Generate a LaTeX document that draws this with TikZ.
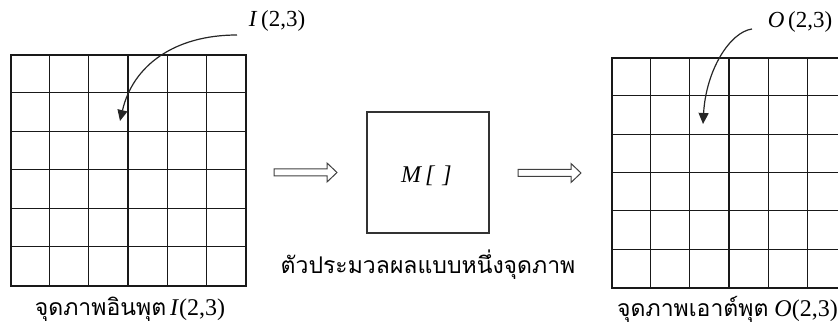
\documentclass[tikz,border=0pt]{standalone}
\usepackage{fontspec}
\setmainfont{Liberation Serif}
\newfontfamily\thaifont[Script=Thai]{Loma}
\usetikzlibrary{arrows.meta,calc}
\tikzset{
  gridline/.style={line width=1.05pt, draw=black!90},
  gridbox/.style={draw=black!90, line width=1.05pt, inner sep=0pt, minimum width=235pt},
  procbox/.style={draw=black!80, line width=1.05pt, inner sep=0pt, minimum width=122pt, minimum height=121pt},
  toplab/.style={inner sep=0pt, font=\fontsize{23}{25}\selectfont},
  captext/.style={inner sep=0pt, font=\fontsize{24}{26}\selectfont},
  curvearrow/.style={line width=1.2pt, draw=black!85, -{Triangle[length=11pt,width=10pt]}},
  hollow/.style={line width=1pt, draw=black!75, line join=miter},
}
\newcommand{\thaicap}[1]{{\thaifont\fontsize{23}{26}\selectfont #1}}
\begin{document}
\begin{tikzpicture}[x=1pt,y=-1pt]
\useasboundingbox (0,0) rectangle (838,331);
\begin{scope}
\clip (0,0) rectangle (838,331);
% input grid
\node[gridbox, minimum height=231pt] (gin) at (128.5,170.5) {};
\foreach \k in {1,...,5} {
  \draw[gridline] ($(gin.north west)+(\k*235/6,0)$) -- ($(gin.south west)+(\k*235/6,0)$);
  \draw[gridline] ($(gin.north west)+(0,\k*231/6)$) -- ($(gin.north east)+(0,\k*231/6)$);
}
% output grid
\node[gridbox, minimum height=230pt] (gout) at (729.5,173) {};
\foreach \k in {1,...,5} {
  \draw[gridline] ($(gout.north west)+(\k*235/6,0)$) -- ($(gout.south west)+(\k*235/6,0)$);
  \draw[gridline] ($(gout.north west)+(0,\k*230/6)$) -- ($(gout.north east)+(0,\k*230/6)$);
}
\end{scope}
% processor
\node[procbox] (proc) at (428,172.5) {};
\node[inner sep=0pt, font=\fontsize{24}{26}\selectfont] (mlab) at (426.5,176) {\textit{M\,[\hspace{8pt}]}};
% top labels and curved arrows
\node[toplab] (lin) at (277,21) {\textit{I}\,(2,3)};
\node[toplab] (lout) at (800,22) {\textit{O}\,(2,3)};
\coordinate (sin) at (237,35);
\coordinate (pin) at (120,121);
\coordinate (sout) at (752,29);
\coordinate (pout) at (703,124);
\draw[curvearrow] (sin) .. controls (175,35) and (133,65) .. (pin);
\draw[curvearrow] (sout) .. controls (730,32) and (706,70) .. (pout);
% hollow arrows
\coordinate (h1) at (274,172.5);
\coordinate (h2) at (518,173);
\foreach \h in {h1,h2} {
  \draw[hollow] (\h) ++(0,-3.5) -- ++(53,0) -- ++(0,-6) -- ++(10,9.5) -- ++(-10,9.5) -- ++(0,-6) -- ++(-53,0) -- cycle;
}
% captions
\node[captext] (cin) at (130,309) {\thaicap{จุดภาพอินพุต}\,\textit{I}(2,3)};
\node[captext] (cmid) at (428,265) {\thaicap{ตัวประมวลผลแบบหนึ่งจุดภาพ}};
\node[captext] (cout) at (727.5,309) {\thaicap{จุดภาพเอาต์พุต} \textit{O}(2,3)};
\end{tikzpicture}
\end{document}
